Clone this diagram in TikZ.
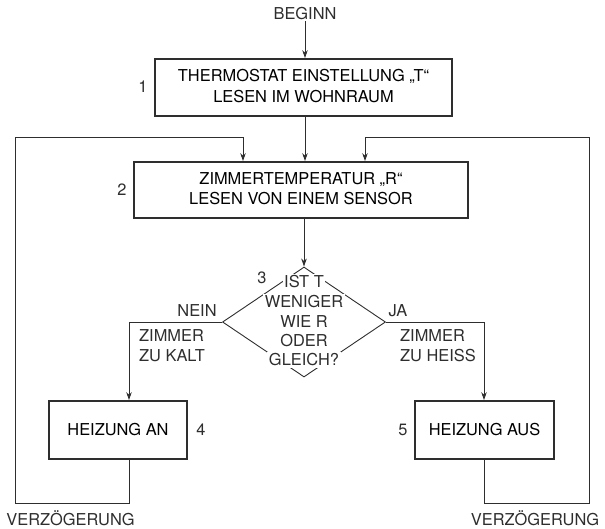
\documentclass[tikz,border=0pt]{standalone}
\usepackage{fontspec}
\setmainfont{TeX Gyre Heros}
\usetikzlibrary{arrows.meta,shapes.geometric}
\definecolor{ink}{gray}{0.18}
\tikzset{
  box/.style={draw=ink,line width=1.8pt,rectangle,align=center,inner sep=0pt},
  arr/.style={draw=ink,line width=0.9pt,-{Stealth[length=8pt,width=5.5pt]}},
  lbl/.style={inner sep=1pt,text=ink},
  dtxt/.style={fill=white,inner sep=1.5pt,text=ink},
}
\begin{document}
\begin{tikzpicture}[x=1pt,y=-1pt,font=\fontsize{16.4}{20}\selectfont]
\useasboundingbox (0,0) rectangle (605,528);
\node[lbl] (begin) at (305,14) {BEGINN};
\node[box,minimum width=297pt,minimum height=57pt] (b1) at (303.5,87.5) {\raisebox{-3pt}{\begin{tabular}{@{}c@{}}THERMOSTAT EINSTELLUNG „T“\\[1pt]LESEN IM WOHNRAUM\end{tabular}}};
\node[lbl] (n1) at (143,87) {1};
\node[box,minimum width=334pt,minimum height=56pt] (b2) at (301,190) {\raisebox{-1pt}{\begin{tabular}{@{}c@{}}ZIMMERTEMPERATUR „R“\\LESEN VON EINEM SENSOR\end{tabular}}};
\node[lbl] (n2) at (122,190) {2};
\node[draw=ink,line width=0.9pt,shape=diamond,minimum width=163pt,minimum height=110pt,aspect=1.48,inner sep=0pt] (d) at (304,322) {};
\node[dtxt] (t1) at (304,282) {IST T};
\node[dtxt] (t2) at (304,302) {WENIGER};
\node[dtxt] (t3) at (304,322) {WIE R};
\node[dtxt] (t4) at (304,341) {ODER};
\node[dtxt] (t5) at (304,360) {GLEICH?};
\node[lbl] (n3) at (262,278) {3};
\node[lbl] (nein) at (197,311) {NEIN};
\node[lbl] (ja) at (398,311) {JA};
\node[lbl,anchor=west,align=left] (kalt) at (138,346) {ZIMMER\\ZU KALT};
\node[lbl,anchor=west,align=left] (heiss) at (399,346) {ZIMMER\\ZU HEISS};
\node[box,minimum width=138pt,minimum height=58pt] (b4) at (118,430) {HEIZUNG AN};
\node[lbl] (n4) at (201,430) {4};
\node[box,minimum width=139pt,minimum height=58pt] (b5) at (484.5,430) {HEIZUNG AUS};
\node[lbl] (n5) at (403,430) {5};
\node[lbl] (v1) at (70.5,518) {VERZÖGERUNG};
\node[lbl] (v2) at (535,518) {VERZÖGERUNG};
% coordinates
\coordinate (lc) at (129,322);
\coordinate (rc) at (484,322);
\coordinate (lb) at (129,503);
\coordinate (rb) at (484,503);
\coordinate (l1) at (15,503);
\coordinate (l2) at (15,137);
\coordinate (la) at (243,137);
\coordinate (r1) at (589,503);
\coordinate (r2) at (589,137);
\coordinate (ra) at (365,137);
% connectors
\draw[arr] (begin.south) -- (begin.south |- b1.north);
\draw[arr] (begin.south |- b1.south) -- (begin.south |- b2.north);
\draw[arr] (b2.south -| d.north) -- (d.north);
\draw[arr] (d.west) -- (lc) -- (lc |- b4.north);
\draw[arr] (d.east) -- (rc) -- (rc |- b5.north);
\draw[arr] (lc |- b4.south) -- (lb) -- (l1) -- (l2) -- (la) -- (la |- b2.north);
\draw[arr] (rc |- b5.south) -- (rb) -- (r1) -- (r2) -- (ra) -- (ra |- b2.north);
\end{tikzpicture}
\end{document}
